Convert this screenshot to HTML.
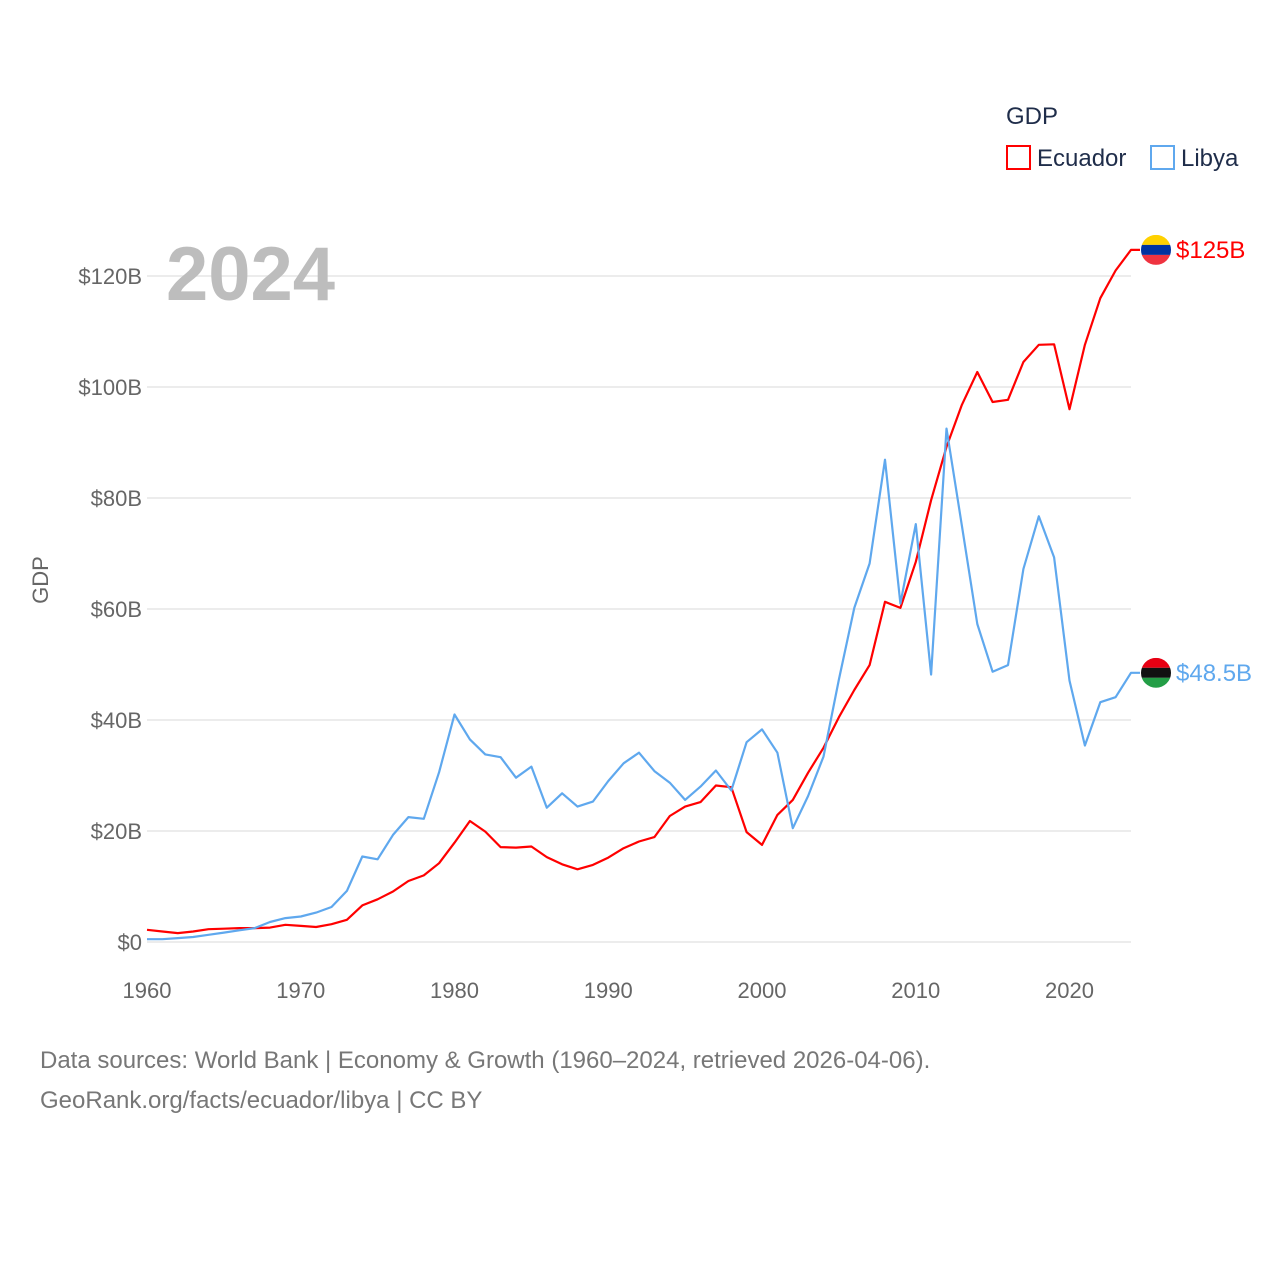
<!DOCTYPE html>
<html><head><meta charset="utf-8"><style>
body{margin:0;background:#fff;font-family:"Liberation Sans",sans-serif;}
svg text{font-family:"Liberation Sans",sans-serif;}
</style></head><body>
<svg width="1280" height="1280" viewBox="0 0 1280 1280">
<g id="grid"></g>
<g id="yticks"></g>
<g id="xticks"></g>
<text x="48" y="580" transform="rotate(-90 48 580)" text-anchor="middle" font-size="22" fill="#666">GDP</text>
<text x="166" y="300" font-size="76" font-weight="bold" fill="#bdbdbd">2024</text>
<g id="lines"></g>
<g>
<text x="1006" y="124" font-size="24" fill="#1f2d4a">GDP</text>
<g><rect x="1007" y="146" width="23" height="23" fill="none" stroke="#ff0000" stroke-width="2"/><text x="1037" y="166" font-size="24" fill="#1f2d4a">Ecuador</text></g>
<g><rect x="1151" y="146" width="23" height="23" fill="none" stroke="#5fa8ee" stroke-width="2"/><text x="1181" y="166" font-size="24" fill="#1f2d4a">Libya</text></g>
</g>
<text x="40" y="1068" font-size="24" fill="#777">Data sources: World Bank | Economy &amp; Growth (1960–2024, retrieved 2026-04-06).</text>
<text x="40" y="1108" font-size="24" fill="#777">GeoRank.org/facts/ecuador/libya | CC BY</text>
</svg>
<script>
const years=[];for(let y=1960;y<=2024;y++)years.push(y);
const ecuador=[2.2,1.9,1.6,1.9,2.3,2.4,2.5,2.5,2.6,3.1,2.9,2.7,3.2,4.0,6.6,7.7,9.1,11.0,12.0,14.2,17.9,21.8,19.9,17.1,17.0,17.2,15.3,14.0,13.1,13.9,15.2,16.9,18.1,18.9,22.7,24.4,25.2,28.2,27.9,19.8,17.5,22.9,25.6,30.5,35.0,40.5,45.4,49.9,61.3,60.2,68.5,79.6,89.2,96.8,102.7,97.3,97.7,104.5,107.6,107.7,96.0,107.6,116.0,121.0,124.7];
const libya=[0.5,0.5,0.7,0.9,1.3,1.7,2.1,2.5,3.6,4.3,4.6,5.3,6.3,9.2,15.4,14.9,19.3,22.5,22.2,30.6,41.0,36.5,33.8,33.3,29.6,31.6,24.2,26.8,24.4,25.3,29.0,32.2,34.1,30.8,28.7,25.6,28.0,30.9,27.3,36.0,38.3,34.1,20.5,26.3,33.4,47.3,60.2,68.2,86.9,61.0,75.3,48.2,92.5,75.0,57.3,48.7,49.9,67.2,76.7,69.3,47.1,35.4,43.2,44.1,48.5];
const yTicks=[0,20,40,60,80,100,120];
const xTicks=[1960,1970,1980,1990,2000,2010,2020];
const NS='http://www.w3.org/2000/svg';
const X=y=>147+(y-1960)*(1131-147)/64;
const Y=v=>942-v*(942-276)/120;
function mk(t,a,p){const e=document.createElementNS(NS,t);for(const k in a)e.setAttribute(k,a[k]);p.appendChild(e);return e;}
const grid=document.getElementById('grid'),yt=document.getElementById('yticks'),xt=document.getElementById('xticks'),lines=document.getElementById('lines');
yTicks.forEach(v=>{
 const l=mk('line',{x1:147,x2:1131,y1:Y(v),y2:Y(v),stroke:'#e6e6e6','stroke-width':1.5},grid);
 
 
 const t=mk('text',{x:142,y:Y(v)+8,'text-anchor':'end','font-size':22,fill:'#666'},yt);
 t.textContent=v===0?'$0':'$'+v+'B';
 
 
});
xTicks.forEach(v=>{
 const t=mk('text',{x:X(v),y:998,'text-anchor':'middle','font-size':22,fill:'#666'},xt);
 t.textContent=v;
 
 
});
function series(vals,color,name,label,flag){
 const pts=vals.map((v,i)=>X(years[i]).toFixed(1)+','+Y(v).toFixed(1));
 const last=vals[vals.length-1];
 pts.push('1140,'+Y(last).toFixed(1));
 const p=mk('polyline',{points:pts.join(' '),fill:'none',stroke:color,'stroke-width':2.2,'stroke-linejoin':'round'},lines);
 
 
 const g=mk('g',{},lines);
 
 
 const cy=Y(last),cx=1156;
 const cp=mk('clipPath',{id:'c'+name},g);mk('circle',{cx:cx,cy:cy,r:15},cp);
 const fg=mk('g',{'clip-path':'url(#c'+name+')'},g);
 flag.forEach((c,i)=>mk('rect',{x:cx-15,y:cy-15+i*10,width:30,height:10,fill:c},fg));
 const t=mk('text',{x:1176,y:cy+8,'font-size':24,fill:color},lines);
 t.textContent=label;
 
 
}
series(ecuador,'#ff0000','ecuador','$125B',['#ffd100','#0033a0','#ef3340']);
series(libya,'#5fa8ee','libya','$48.5B',['#e70013','#111','#239e46']);
</script>
</body></html>
